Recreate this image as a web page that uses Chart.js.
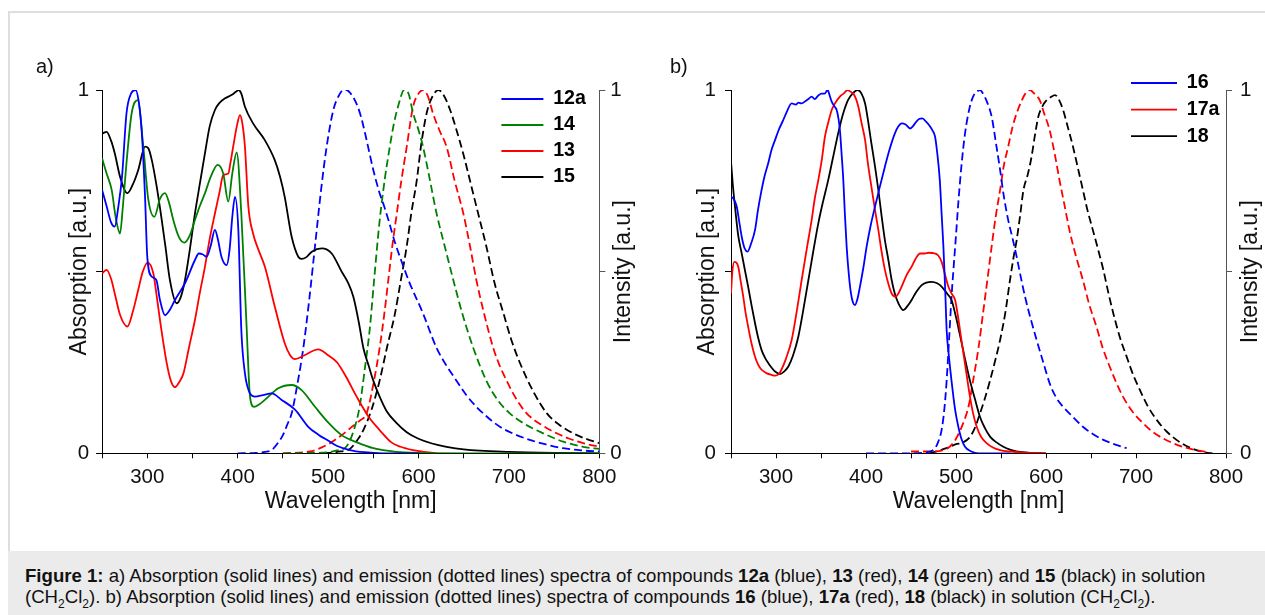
<!DOCTYPE html>
<html>
<head>
<meta charset="utf-8">
<script src="https://cdn.jsdelivr.net/npm/chart.js@4.4.1/dist/chart.umd.min.js"></script>
<style>
  html, body { margin: 0; padding: 0; background: #fff; }
  body { width: 1265px; height: 615px; position: relative; overflow: hidden; font-family: 'Liberation Sans', Arial, sans-serif; }
  #frame { position: absolute; left: 8px; top: 11px; right: 0; height: 540px; border-top: 2px solid #dedede; border-left: 2px solid #dedede; }
  canvas { position: absolute; top: 0; }
  #cva { left: 0; }
  #cvb { left: 640px; }
  .plabel { position: absolute; top: 55px; font-size: 20px; color: #111; }
  #cap { position: absolute; left: 8px; top: 551px; right: 0; height: 64px; background: #ebebeb; font-size: 18.6px; line-height: 21px; color: #111; padding: 14px 0 0 17px; box-sizing: border-box; white-space: nowrap; }
  #cap sub { font-size: 12px; line-height: 0; }
</style>
</head>
<body>
<div id="frame"></div>
<canvas id="cva" width="640" height="530"></canvas>
<canvas id="cvb" width="625" height="530"></canvas>
<div class="plabel" style="left:36px">a)</div>
<div class="plabel" style="left:670px">b)</div>
<div id="cap"><b>Figure 1:</b> a) Absorption (solid lines) and emission (dotted lines) spectra of compounds <b>12a</b> (blue), <b>13</b> (red), <b>14</b> (green) and <b>15</b> (black) in solution<br>(CH<sub>2</sub>Cl<sub>2</sub>). b) Absorption (solid lines) and emission (dotted lines) spectra of compounds <b>16</b> (blue), <b>17a</b> (red), <b>18</b> (black) in solution (CH<sub>2</sub>Cl<sub>2</sub>).</div>
<script>
// tick labels
const xTickLabels = [300, 400, 500, 600, 700, 800];
const yTickLabels = [0, 1];

// panel a: absorption (solid), [wavelength nm, a.u.]
const abs12a = [[250,0.725],[255,0.68],[260,0.635],[264,0.624],[268,0.68],[272,0.76],[277,0.936],[282,0.99],[287,1.0],[291,0.96],[294,0.88],[297.5,0.706],[300,0.54],[305,0.486],[310,0.477],[314,0.422],[319.6,0.38],[325,0.395],[330.6,0.422],[341.7,0.468],[352.7,0.532],[357,0.55],[361,0.548],[365.6,0.541],[370,0.57],[374.8,0.615],[378,0.59],[382,0.541],[387.8,0.518],[391,0.56],[394,0.65],[397,0.706],[400.7,0.615],[404,0.34],[408,0.22],[413.6,0.165],[419,0.156],[428,0.16],[437.6,0.165],[448.6,0.147],[463.4,0.12],[478,0.073],[490,0.05],[500,0.035],[510,0.02],[524,0.009],[540,0.003],[560,0],[600,0]];
const abs14 = [[250,0.812],[255,0.77],[260.6,0.725],[265,0.65],[269.8,0.605],[273,0.68],[277,0.8],[282.7,0.936],[289.4,0.972],[295.6,0.844],[301,0.7],[307.8,0.651],[314,0.7],[319.6,0.716],[324,0.69],[328.8,0.642],[335,0.595],[341,0.58],[347,0.6],[352.7,0.642],[358,0.68],[363.8,0.716],[370,0.76],[377.8,0.794],[384,0.77],[389.6,0.693],[394,0.77],[398.9,0.828],[404,0.66],[410,0.34],[413.6,0.156],[418,0.128],[424,0.135],[430,0.147],[444.9,0.179],[459.7,0.188],[470.7,0.174],[485.5,0.128],[500,0.085],[515,0.05],[532,0.03],[550,0.014],[575,0.004],[600,0.001],[650,0],[800,0]];
const abs13 = [[250,0.495],[255,0.505],[260,0.48],[264,0.44],[270,0.38],[278,0.349],[284,0.39],[290,0.45],[295,0.5],[300.4,0.525],[306.7,0.495],[310,0.44],[314,0.367],[321.5,0.248],[326,0.2],[330.6,0.182],[335,0.195],[340,0.22],[346,0.29],[352.7,0.367],[358,0.44],[363.8,0.514],[369,0.59],[374.8,0.66],[380,0.72],[384,0.766],[389.6,0.77],[392,0.8],[395,0.844],[399,0.9],[402.5,0.931],[405,0.91],[408,0.844],[411.8,0.679],[417,0.605],[423,0.56],[430,0.514],[441,0.404],[452,0.303],[458,0.27],[463.4,0.259],[474,0.27],[489,0.286],[500,0.27],[510,0.25],[520,0.21],[531.6,0.156],[545,0.1],[557,0.064],[570,0.03],[580,0.018],[594,0.009],[620,0]];
const abs15 = [[250,0.88],[255,0.885],[260,0.86],[264,0.826],[270,0.76],[278,0.716],[284,0.74],[290,0.78],[297.5,0.844],[301,0.84],[305,0.807],[310,0.74],[316,0.642],[320,0.57],[325,0.477],[332.5,0.413],[337,0.43],[341.7,0.477],[347,0.56],[352.7,0.66],[358,0.74],[363.8,0.826],[369,0.9],[374.8,0.945],[380,0.965],[386,0.977],[393,0.986],[398,0.995],[401,1.0],[404,0.99],[408,0.954],[417,0.908],[430,0.862],[441,0.807],[447,0.76],[452,0.706],[459.7,0.596],[467,0.541],[470.7,0.535],[476,0.54],[482,0.555],[493,0.564],[504,0.55],[515,0.5],[522,0.47],[528,0.43],[534,0.36],[539,0.29],[545,0.24],[550,0.2],[557,0.156],[565,0.115],[575,0.085],[587,0.058],[600,0.04],[615,0.027],[631,0.018],[650,0.011],[700,0.004],[750,0.001],[800,0]];

// panel a: emission (dashed)
const em12a = [[400,0],[420,0.001],[430,0.004],[437.6,0.009],[445,0.03],[450,0.05],[455,0.08],[459.7,0.11],[466,0.19],[472.6,0.29],[479,0.42],[485.5,0.57],[492,0.72],[498.4,0.844],[505.8,0.945],[512,0.985],[517,1.0],[520.5,1.0],[525,0.99],[530,0.97],[536,0.93],[542.6,0.862],[550,0.78],[557,0.716],[562,0.68],[567,0.64],[574,0.58],[581,0.53],[590,0.47],[605,0.385],[620,0.29],[630,0.245],[642,0.2],[653,0.16],[664,0.128],[677,0.098],[690,0.073],[705,0.054],[723,0.037],[740,0.025],[760,0.014],[780,0.008],[800,0.005]];
const em14 = [[450,0],[480,0.001],[500,0.003],[510,0.008],[520,0.018],[528,0.06],[535,0.13],[541,0.24],[546,0.34],[551,0.48],[557,0.64],[563,0.76],[568,0.84],[573,0.91],[578,0.96],[584,1.0],[589,0.99],[594,0.936],[600,0.89],[605,0.844],[612,0.76],[620,0.66],[629,0.57],[638.5,0.477],[649,0.38],[660.6,0.29],[675,0.2],[688,0.145],[701,0.11],[718,0.08],[738,0.055],[760,0.032],[782,0.018],[800,0.012]];
const em13 = [[450,0],[480,0.005],[500,0.025],[515,0.05],[525,0.07],[535,0.09],[542.6,0.11],[550,0.19],[557,0.29],[562,0.38],[566.6,0.477],[571,0.57],[576,0.66],[581,0.75],[587,0.844],[594,0.954],[600,0.99],[605,1.0],[610,0.985],[616,0.936],[623,0.89],[631,0.844],[640,0.75],[649.6,0.66],[657,0.57],[664,0.477],[673,0.38],[682.7,0.29],[690,0.24],[697.5,0.2],[708,0.15],[719.6,0.11],[735,0.08],[752.8,0.055],[767,0.04],[782,0.028],[800,0.018]];
const em15 = [[495,0],[510,0.004],[524,0.012],[532,0.035],[539,0.064],[548,0.12],[557,0.2],[565,0.29],[574,0.385],[580,0.47],[587,0.57],[592,0.66],[598,0.75],[603,0.85],[609,0.936],[615,0.98],[622,1.0],[628,0.985],[635,0.945],[642,0.89],[650,0.82],[657,0.75],[666,0.66],[675,0.57],[684,0.47],[694,0.385],[703,0.31],[712,0.25],[727,0.17],[742,0.11],[756,0.078],[771,0.055],[785,0.04],[800,0.028]];

// panel b: absorption (solid)
const abs16 = [[250,0.706],[253,0.7],[256.3,0.68],[259,0.64],[261.9,0.596],[265,0.565],[268.5,0.555],[272,0.575],[276.7,0.615],[280,0.67],[284,0.725],[287,0.76],[291.5,0.8],[295,0.835],[298.9,0.862],[303,0.89],[308,0.917],[312,0.94],[317.4,0.963],[322,0.96],[325,0.965],[328.5,0.963],[333,0.97],[336,0.975],[339.6,0.982],[343,0.975],[347,0.985],[350.7,0.99],[354,0.99],[357.4,1.0],[359,0.99],[361.9,0.968],[365,0.955],[367.4,0.945],[369.5,0.92],[371,0.89],[373,0.82],[374.8,0.752],[376.5,0.66],[378.5,0.569],[381,0.49],[383.3,0.44],[385.5,0.415],[387.8,0.408],[390.5,0.425],[393.3,0.459],[397,0.51],[400.7,0.569],[405,0.625],[410,0.679],[415,0.73],[421,0.789],[426,0.835],[432,0.88],[436,0.9],[439.6,0.908],[444,0.905],[449,0.894],[452,0.9],[456,0.913],[459,0.92],[462.6,0.922],[467,0.912],[471,0.9],[474,0.888],[476.7,0.872],[479,0.83],[482,0.752],[484,0.66],[486,0.569],[488,0.45],[489.6,0.34],[492,0.27],[495,0.2],[499,0.12],[502.6,0.073],[506,0.04],[510,0.018],[517,0.005],[525,0],[560,0]];
const abs17a = [[250,0.44],[251.5,0.5],[253.7,0.527],[256,0.525],[258,0.514],[261,0.47],[263.7,0.43],[266,0.39],[269,0.349],[273,0.3],[276.7,0.266],[280,0.245],[284,0.23],[290,0.22],[295,0.216],[299,0.214],[303,0.218],[306,0.23],[311,0.26],[317.4,0.312],[323,0.39],[328.5,0.477],[334,0.56],[339.6,0.642],[343,0.7],[347,0.752],[351,0.81],[354.4,0.872],[358,0.91],[361.9,0.945],[366,0.965],[371,0.982],[375,0.99],[379.6,1.0],[383,0.995],[386,0.99],[389,0.975],[391.5,0.954],[395,0.91],[399,0.862],[402,0.8],[406,0.734],[410,0.67],[413.7,0.615],[417,0.56],[421,0.505],[425,0.465],[428.5,0.44],[433,0.431],[436,0.44],[439.6,0.459],[445,0.49],[450.7,0.514],[455,0.535],[460,0.55],[465,0.55],[470,0.552],[476.7,0.55],[480,0.545],[484,0.527],[488,0.49],[491.5,0.459],[495,0.44],[499,0.422],[502,0.38],[506,0.312],[511,0.23],[515.5,0.156],[519,0.11],[523,0.073],[528,0.045],[534,0.028],[541,0.016],[549,0.009],[560,0.005],[575,0.002],[600,0]];
const abs18 = [[250,0.803],[252,0.74],[254.4,0.68],[258,0.6],[261.9,0.55],[265,0.51],[269,0.459],[273,0.405],[276.7,0.358],[280,0.32],[284,0.284],[288,0.262],[291.5,0.248],[295,0.236],[299,0.225],[304.4,0.218],[309,0.225],[313.7,0.239],[319,0.27],[324.8,0.321],[330,0.39],[336,0.477],[341,0.55],[347,0.633],[352,0.69],[358,0.752],[363,0.81],[369,0.88],[374,0.93],[380,0.972],[385,0.99],[390.7,1.0],[395,0.99],[399,0.963],[402,0.92],[406,0.853],[410,0.79],[413.7,0.725],[417,0.66],[421,0.587],[425,0.53],[428.5,0.477],[432,0.44],[436,0.413],[441.5,0.394],[446,0.405],[450.7,0.422],[456,0.445],[461.9,0.463],[467,0.47],[473,0.472],[479,0.468],[484,0.459],[490,0.44],[495,0.422],[500,0.375],[504,0.33],[510,0.26],[515.5,0.2],[521,0.15],[526.7,0.1],[532,0.07],[537.8,0.046],[545,0.03],[552.6,0.018],[560,0.01],[567,0.005],[580,0.002],[600,0]];

// panel b: emission (dashed)
const em16 = [[400,0],[450,0],[470,0.004],[476.7,0.014],[480,0.03],[484,0.064],[487,0.12],[489.6,0.2],[492,0.3],[495,0.43],[497,0.5],[500,0.6],[502.6,0.69],[506,0.79],[510,0.88],[515,0.95],[519,0.982],[523,0.995],[526.7,1.0],[530,0.99],[534,0.97],[539.6,0.927],[544,0.86],[549,0.78],[553,0.71],[558,0.642],[563,0.59],[567.4,0.541],[572,0.485],[576.7,0.431],[583,0.37],[589.6,0.312],[597,0.25],[604,0.193],[611,0.155],[619,0.128],[630,0.1],[641,0.073],[652,0.053],[663.7,0.037],[677,0.024],[689.6,0.014]];
const em17a = [[450,0.005],[470,0.005],[485,0.008],[493,0.018],[500,0.04],[508,0.083],[514,0.13],[519,0.2],[525,0.29],[530,0.385],[535,0.48],[539.6,0.569],[544,0.65],[549,0.725],[553,0.79],[558,0.844],[563,0.9],[567.4,0.936],[572,0.965],[577,0.99],[582,1.0],[587,0.99],[593,0.972],[598,0.935],[604,0.89],[610,0.82],[615,0.752],[620,0.69],[626,0.615],[633,0.545],[641,0.477],[648,0.41],[656,0.349],[663,0.29],[670.7,0.239],[678,0.195],[685.5,0.156],[696,0.115],[707.8,0.083],[718,0.06],[730,0.041],[741,0.028],[752,0.018],[764,0.01],[775,0.005],[782,0]];
const em18 = [[470,0],[480,0.006],[490,0.015],[500,0.025],[508,0.03],[515.5,0.045],[521,0.07],[526.7,0.11],[532,0.15],[537.8,0.2],[543,0.25],[549,0.312],[555,0.39],[560,0.477],[564,0.54],[567.4,0.587],[571,0.65],[575,0.725],[580,0.77],[584,0.817],[588,0.88],[591.5,0.927],[596,0.955],[600.7,0.972],[605,0.98],[610,0.986],[614,0.975],[619,0.945],[624,0.9],[630,0.844],[635,0.79],[641,0.725],[646,0.67],[652,0.615],[658,0.56],[663.7,0.505],[669,0.445],[674.8,0.385],[682,0.32],[689.6,0.266],[697,0.215],[704.4,0.174],[713,0.13],[723,0.092],[734,0.06],[745,0.037],[756,0.02],[767,0.009],[778,0.002],[785,0]];

const BLUE = '#0000ff', RED = '#ff0000', GREEN = '#008000', BLACK = '#000000';
const FONT = "'Liberation Sans', Arial, sans-serif";
Chart.defaults.font.family = FONT;
Chart.defaults.color = '#111';

function line(label, pts, color, dashed, axis) {
  return {
    label: label,
    data: pts.map(p => ({x: p[0], y: p[1]})),
    borderColor: color,
    backgroundColor: color,
    borderWidth: 1.8,
    borderDash: dashed ? [8, 4] : [],
    pointRadius: 0,
    cubicInterpolationMode: 'monotone',
    yAxisID: axis,
    fill: false
  };
}

function makePanel(canvasId, p) {
  const tickFont = {size: 20.5};
  const plugin = {
    id: 'panelExtras',
    afterLayout(chart) {
      // legend sits inside the plot, top right
      const lg = chart.legend;
      lg.left = p.legendLeft; lg.right = p.legendLeft + 140;
      lg.top = p.legendTop; lg.bottom = p.legendTop + 140;
    },
    afterDraw(chart) {
      const ctx = chart.ctx, a = chart.chartArea;
      ctx.save();
      ctx.translate(p.rightTitleX, (a.top + a.bottom) / 2);
      ctx.rotate(-Math.PI / 2);
      ctx.font = '23px ' + FONT;
      ctx.fillStyle = '#111';
      ctx.textAlign = 'center';
      ctx.textBaseline = 'middle';
      ctx.fillText('Intensity [a.u.]', 0, 0);
      ctx.restore();
    }
  };
  return new Chart(document.getElementById(canvasId), {
    type: 'line',
    data: {datasets: p.datasets},
    options: {
      responsive: false,
      animation: false,
      events: [],
      layout: {padding: {top: 90, left: 0, right: 0, bottom: 0}},
      plugins: {
        tooltip: {enabled: false},
        legend: {
          position: 'chartArea',
          align: 'start',
          labels: {
            filter: item => item.datasetIndex < p.nAbs,
            usePointStyle: true,
            pointStyle: 'line',
            pointStyleWidth: p.legendLine,
            padding: p.legendPad,
            color: '#000',
            font: {size: 19.6, weight: 'bold'}
          }
        }
      },
      scales: {
        x: {
          type: 'linear', min: 250, max: 800,
          ticks: {stepSize: 50, autoSkip: false, maxRotation: 0, padding: 7, font: tickFont, color: '#111',
                  callback: v => xTickLabels.includes(v) ? String(v) : ''},
          grid: {drawOnChartArea: false, tickLength: 5, color: '#000'},
          border: {color: '#000', width: 1},
          title: {display: true, text: 'Wavelength [nm]', font: {size: 23}, color: '#111', padding: {top: 0, bottom: 14.2}},
          afterFit: s => { s.height = 76.7; }
        },
        y: {
          position: 'left', min: 0, max: 1,
          ticks: {stepSize: 0.5, padding: p.yPad, font: tickFont, color: '#111',
                  callback: v => yTickLabels.includes(v) ? String(v) : ''},
          grid: {drawOnChartArea: false, tickLength: 6, color: '#000'},
          border: {color: '#000', width: 1},
          title: {display: true, text: 'Absorption [a.u.]', font: {size: 23}, color: '#111', padding: {top: p.yTitlePad, bottom: 0}},
          afterFit: s => { s.width = p.leftW; }
        },
        y2: {
          position: 'right', min: 0, max: 1,
          ticks: {stepSize: 0.5, padding: p.y2Pad, font: tickFont, color: '#111',
                  callback: v => yTickLabels.includes(v) ? String(v) : ''},
          grid: {drawOnChartArea: false, tickLength: 6, color: '#555'},
          border: {color: '#555', width: 1},
          afterFit: s => { s.width = p.rightW; }
        }
      }
    },
    plugins: [plugin]
  });
}

makePanel('cva', {
  datasets: [
    line('12a', abs12a, BLUE, false, 'y'),
    line('14', abs14, GREEN, false, 'y'),
    line('13', abs13, RED, false, 'y'),
    line('15', abs15, BLACK, false, 'y'),
    line('12a em', em12a, BLUE, true, 'y2'),
    line('14 em', em14, GREEN, true, 'y2'),
    line('13 em', em13, RED, true, 'y2'),
    line('15 em', em15, BLACK, true, 'y2')
  ],
  nAbs: 4, leftW: 102.1, rightW: 40.7, yTitlePad: 66.2, yPad: 7, y2Pad: 5,
  legendLeft: 495, legendTop: 82.8, legendLine: 42, legendPad: 6.4, rightTitleX: 624
});

makePanel('cvb', {
  datasets: [
    line('16', abs16, BLUE, false, 'y'),
    line('17a', abs17a, RED, false, 'y'),
    line('18', abs18, BLACK, false, 'y'),
    line('16 em', em16, BLUE, true, 'y2'),
    line('17a em', em17a, RED, true, 'y2'),
    line('18 em', em18, BLACK, true, 'y2')
  ],
  nAbs: 3, leftW: 91, rightW: 39, yTitlePad: 54.2, yPad: 9, y2Pad: 8,
  legendLeft: 1124 - 640, legendTop: 66.2, legendLine: 46, legendPad: 7, rightTitleX: 611
});
</script>
</body>
</html>
